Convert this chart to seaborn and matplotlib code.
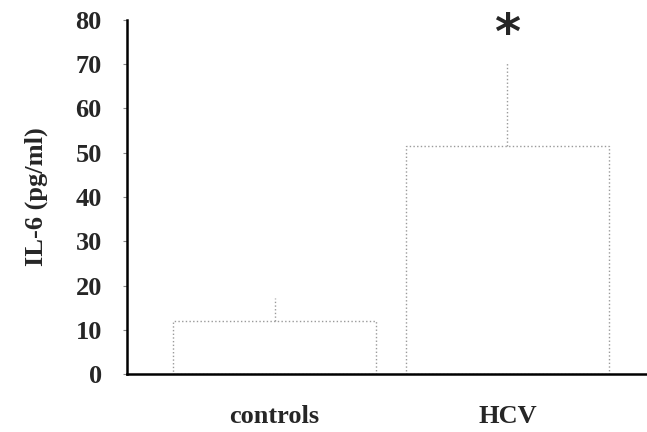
import matplotlib
matplotlib.use("Agg")
import matplotlib.pyplot as plt
import seaborn as sns
import pandas as pd

groups = ["controls", "HCV"]
means = [12, 51.5]
upper_err = [5.2, 19]
yticks = [0, 10, 20, 30, 40, 50, 60, 70, 80]

sns.set_style("white")
plt.rcParams["font.family"] = ["Liberation Serif", "DejaVu Serif"]
plt.rcParams["font.weight"] = "bold"

df = pd.DataFrame({"group": groups, "value": means})

fig = plt.figure(figsize=(6.47, 4.32), dpi=100)
ax = fig.add_axes([0.196, 0.134, 0.804, 0.82])

sns.barplot(data=df, x="group", y="value", ax=ax, color="white",
            edgecolor="#9a9a9a", linewidth=1.0, width=0.87, errorbar=None)
for p in ax.patches:
    p.set_linestyle(":")

ax.errorbar(range(len(groups)), means, yerr=[[0, 0], upper_err], fmt="none",
            ecolor="#9a9a9a", elinewidth=1.0, linestyle=":", capsize=0)
for c in ax.collections:
    c.set_linestyle(":")

ax.text(1, 76.6, "*", ha="center", va="center", fontsize=36, fontweight="bold",
        family="DejaVu Sans")

ax.set_xlim(-0.635, 1.6)
ax.set_ylim(0, 80)
ax.set_yticks(yticks)
ax.set_xlabel("")
ax.set_ylabel("IL-6 (pg/ml)", fontsize=19, fontweight="bold", labelpad=20)
ax.tick_params(axis="y", labelsize=19, length=3, color="#888888", pad=15, left=True)
ax.tick_params(axis="x", labelsize=19, length=0, pad=22)
for lab in ax.get_xticklabels() + ax.get_yticklabels():
    lab.set_fontweight("bold")

sns.despine(ax=ax)
for s in ["left", "bottom"]:
    ax.spines[s].set_color("black")
    ax.spines[s].set_linewidth(1.8)

fig.savefig("out.png", dpi=100)
